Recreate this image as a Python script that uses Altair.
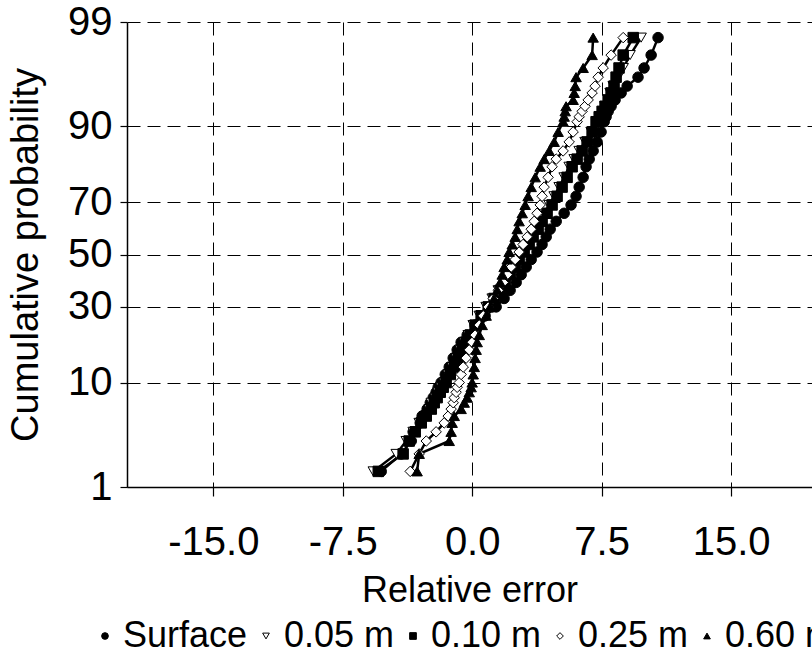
import altair as alt
import pandas as pd
from statistics import NormalDist

# Cumulative probability levels (percent)
PROB = [1.5, 2.3, 3.1, 3.8, 4.6, 5.3, 6.1, 6.9, 7.6, 8.4,
        9.2, 10, 11.5, 13, 15, 17, 19, 21, 24, 27,
        30, 33, 36, 39, 42, 45, 48, 51, 54, 57,
        60, 63, 66, 69, 72, 75, 78, 81, 83, 85,
        87, 89, 90.8, 91.6, 92.4, 93.1, 93.9, 94.7, 95.4, 96.2,
        96.9, 97.7, 98.5]

# Relative error values of each series at those levels
SURFACE = [-5.27, -4.11, -3.53, -3.42, -3.01, -2.90, -2.61, -2.43, -2.26, -2.09,
           -1.97, -1.80, -1.56, -1.33, -1.10, -0.87, -0.64, -0.29, 0.17, 0.75,
           1.39, 1.85, 2.20, 2.55, 2.84, 3.13, 3.42, 3.76, 4.05, 4.29,
           4.52, 4.87, 5.33, 5.73, 6.02, 6.20, 6.43, 6.60, 6.78, 7.01,
           7.24, 7.47, 7.65, 7.76, 7.88, 8.05, 8.28, 8.63, 8.98, 9.61,
           9.96, 10.37, 10.77]
D005 = [-5.73, -4.40, -3.82, -3.42, -3.07, -2.72, -2.49, -2.37, -2.14, -1.97,
        -1.80, -1.62, -1.39, -1.16, -0.93, -0.70, -0.46, -0.23, 0.06, 0.41,
        0.81, 1.16, 1.51, 1.85, 2.14, 2.43, 2.72, 2.95, 3.24, 3.48,
        3.71, 4.00, 4.23, 4.46, 4.75, 5.04, 5.33, 5.62, 5.91, 6.20,
        6.54, 6.89, 7.24, 7.41, 7.59, 7.70, 7.88, 7.99, 8.17, 8.46,
        8.75, 9.15, 9.79]
D010 = [-5.44, -4.00, -3.65, -3.30, -2.95, -2.66, -2.37, -2.20, -2.03, -1.85,
        -1.68, -1.51, -1.27, -1.04, -0.81, -0.58, -0.35, -0.12, 0.17, 0.52,
        0.93, 1.27, 1.62, 1.91, 2.20, 2.49, 2.72, 3.01, 3.30, 3.53,
        3.82, 4.05, 4.34, 4.63, 4.92, 5.21, 5.50, 5.79, 6.08, 6.37,
        6.66, 6.95, 7.18, 7.36, 7.53, 7.70, 7.88, 8.05, 8.22, 8.34,
        8.51, 8.75, 9.33]
D025 = [-3.59, -3.07, -2.66, -2.09, -1.62, -1.39, -1.22, -1.10, -1.04, -0.93,
        -0.87, -0.75, -0.64, -0.52, -0.35, -0.17, 0.00, 0.17, 0.41, 0.64,
        0.93, 1.22, 1.51, 1.80, 2.03, 2.26, 2.49, 2.72, 2.95, 3.19,
        3.42, 3.59, 3.76, 3.94, 4.05, 4.17, 4.40, 4.63, 4.87, 5.27,
        5.62, 5.85, 6.08, 6.20, 6.37, 6.54, 6.72, 6.95, 7.12, 7.30,
        7.59, 8.05, 8.75]
D060 = [-3.19, -3.07, -1.33, -1.22, -1.16, -1.04, -0.64, -0.46, -0.29, -0.17,
        -0.06, 0.00, 0.06, 0.12, 0.17, 0.23, 0.29, 0.41, 0.58, 0.81,
        1.04, 1.27, 1.45, 1.62, 1.74, 1.85, 2.03, 2.14, 2.32, 2.49,
        2.61, 2.72, 2.90, 3.07, 3.24, 3.42, 3.65, 3.94, 4.17, 4.46,
        4.75, 4.98, 5.27, 5.33, 5.39, 5.44, 5.85, 5.91, 5.97, 6.02,
        6.43, 6.95, 7.01]

SERIES = ["Surface", "0.05 m", "0.10 m", "0.25 m", "0.60 m"]
SHAPES = ["circle", "triangle-down", "square", "diamond", "triangle-up"]
FILLS = ["black", "white", "black", "white", "black"]
STROKES = ["black", "black", "black", "black", "black"]
X_TICKS = [-15.0, -7.5, 0.0, 7.5, 15.0]
Y_TICKS = [1, 10, 30, 50, 70, 90, 99]

rows = []
for k, (name, vals) in enumerate(zip(SERIES, [SURFACE, D005, D010, D025, D060])):
    for p, v in zip(PROB, vals):
        rows.append({"series": name, "k": k, "p": p, "err": v})
df = pd.DataFrame(rows)

nd = NormalDist()
Y_VALS = [nd.inv_cdf(t / 100.0) for t in Y_TICKS]

FONT = "Liberation Sans"
DASH = [13, 7]

x_enc = alt.X(
    "err:Q",
    scale=alt.Scale(domain=[-20, 19.69], nice=False, zero=False),
    axis=alt.Axis(values=X_TICKS,
                  labelExpr="(datum.value < 0 ? '-' : '') + format(abs(datum.value), '.1f')",
                  title="Relative error",
                  grid=True, gridDash=DASH, gridColor="black", gridWidth=1,
                  domainColor="black", domainWidth=1.5, tickColor="black",
                  tickSize=9, tickWidth=1.2, labelPadding=26,
                  labelFontSize=40, labelColor="black", labelFont=FONT,
                  titleFontSize=36, titleFont=FONT, titleFontWeight="normal",
                  titleColor="black", titlePadding=11, labelFlush=False),
)
y_enc = alt.Y(
    "z:Q",
    scale=alt.Scale(domain=[Y_VALS[0], Y_VALS[-1]], nice=False, zero=False),
    axis=alt.Axis(values=Y_VALS,
                  labelExpr="format(cumulativeNormal(datum.value) * 100, '.0f')",
                  title="Cumulative probability",
                  grid=True, gridDash=DASH, gridColor="black", gridWidth=1,
                  domainColor="black", domainWidth=1.5, tickColor="black",
                  tickSize=7, tickWidth=1.2, labelPadding=8,
                  labelFontSize=40, labelColor="black", labelFont=FONT,
                  titleFontSize=38, titleFont=FONT, titleFontWeight="normal",
                  titleColor="black", titlePadding=22, labelFlush=False),
)

base = alt.Chart(df).transform_calculate(z="quantileNormal(datum.p / 100)")

lines = base.mark_line(color="black", strokeWidth=2.5).encode(
    x=x_enc, y=y_enc, detail="series:N", order="p:Q"
)

leg = alt.Legend(title=None, orient="none", direction="horizontal",
                 legendX=-40, legendY=596, labelFontSize=36, labelFont=FONT,
                 labelColor="black", symbolSize=45,
                 symbolStrokeWidth=1, symbolOpacity=1, labelOffset=0,
                 columnPadding=0, padding=0, gridAlign="none")

points = base.mark_point(filled=True, strokeWidth=1, size=110, opacity=1).encode(
    x=x_enc, y=y_enc,
    shape=alt.Shape("series:N", scale=alt.Scale(domain=SERIES, range=SHAPES), legend=leg),
    fill=alt.Fill("series:N", scale=alt.Scale(domain=SERIES, range=FILLS), legend=leg),
    stroke=alt.Stroke("series:N", scale=alt.Scale(domain=SERIES, range=STROKES), legend=leg),
    order="k:Q",
)

chart = alt.layer(lines, points).properties(
    width=685, height=465,
    autosize=alt.AutoSizeParams(type="none"),
    padding={"left": 127, "top": 22, "right": 0, "bottom": 168},
    background="white",
).configure_view(stroke=None)

chart.save("out.html", embed_options={"renderer": "svg", "actions": False})
